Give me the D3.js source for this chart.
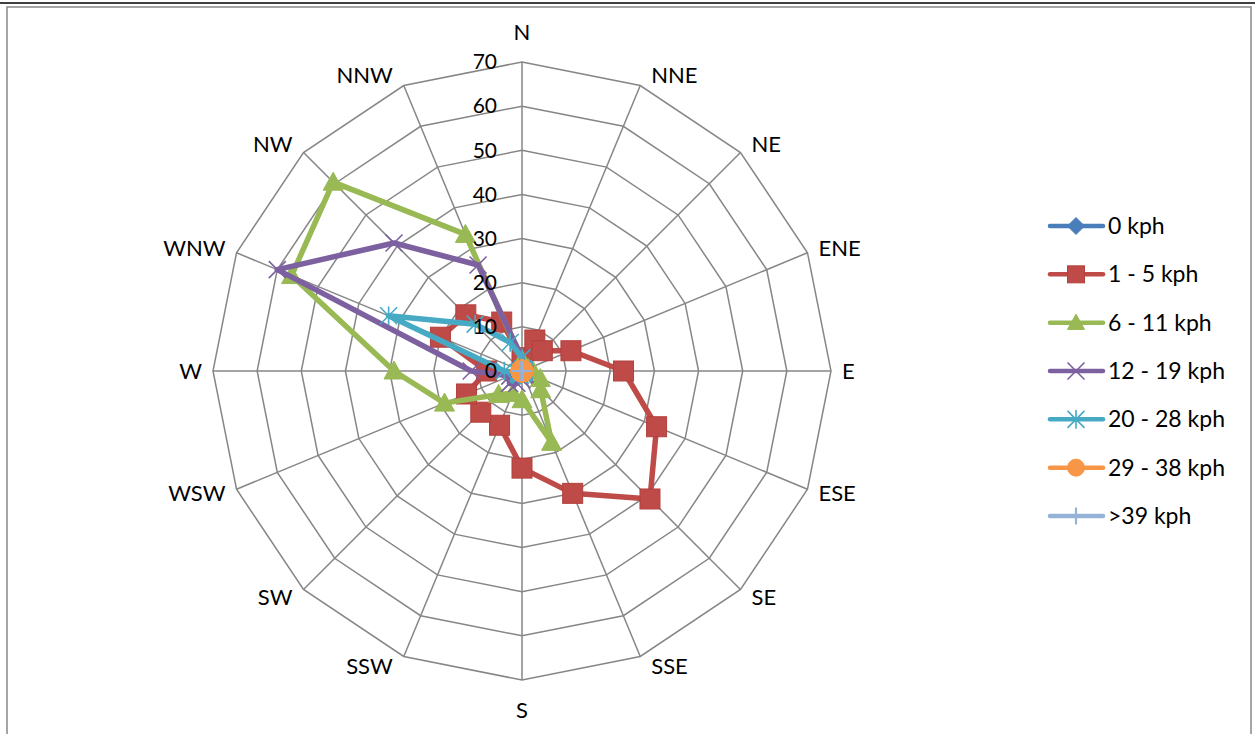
<!DOCTYPE html>
<html>
<head>
<meta charset="utf-8">
<script src="https://cdn.jsdelivr.net/npm/d3@7"></script>
<style>
  html, body { margin: 0; padding: 0; background: #fff; }
  svg { display: block; }
  text { font-family: Lato, "Open Sans", "DejaVu Sans", sans-serif; fill: #000; }
</style>
</head>
<body>
<svg id="chart" width="1255" height="734"></svg>
<script>
// ---- data ----
const directions = ["N","NNE","NE","ENE","E","ESE","SE","SSE","S","SSW","SW","WSW","W","WNW","NW","NNW"];
const tickValues = [0, 10, 20, 30, 40, 50, 60, 70];
const seriesNames = ["0 kph", "1 - 5 kph", "6 - 11 kph", "12 - 19 kph", "20 - 28 kph", "29 - 38 kph", ">39 kph"];
const kph0    = [0, 0, 0, 0, 0, 0, 0, 0, 0, 0, 0, 0, 0, 0, 0, 0];
const kph1_5  = [3, 7.6, 6.5, 12, 23, 33, 41, 30, 22, 13.3, 13.2, 13.6, 8, 20, 18, 12];
const kph6_11 = [2.5, 1, 1, 1.5, 2.5, 4.5, 6, 17.5, 6.5, 5.5, 7.5, 19, 29, 56.5, 60.5, 33.5];
const kph12_19 = [3, 0.5, 0.5, 0.5, 0.5, 0.5, 1, 1, 2, 3, 4, 3, 11.5, 60, 41, 26];
const kph20_28 = [3, 0.5, 0.5, 0.5, 0.5, 0.5, 0.5, 0.5, 0.5, 1, 1, 1, 4, 32.7, 15, 7];
const kph29_38 = [0, 0, 0, 0, 0, 0, 0, 0, 0, 0, 0, 0, 0, 0, 0, 0];
const kph39    = [0, 0, 0, 0, 0, 0, 0, 0, 0, 0, 0, 0, 0, 0, 0, 0];
const seriesValues = [kph0, kph1_5, kph6_11, kph12_19, kph20_28, kph29_38, kph39];
const seriesColors = ["#4A7EBB", "#BE4B48", "#98B954", "#7D60A0", "#46AAC5", "#F79646", "#95B3D7"];
const seriesMarkers = ["diamond", "square", "triangle", "x", "star", "circle", "plus"];

// ---- layout ----
const svg = d3.select("#chart");
const cx = 522, cy = 371, R = 309;
const r = d3.scaleLinear().domain([0, 70]).range([0, R]);
const ang = d3.scaleLinear().domain([0, directions.length]).range([0, 2 * Math.PI]);
const pt = (i, v) => [cx + r(v) * Math.sin(ang(i)), cy - r(v) * Math.cos(ang(i))];

// frame
svg.append("line").attr("x1", 0).attr("x2", 1255).attr("y1", 3).attr("y2", 3)
  .attr("stroke", "#000").attr("stroke-width", 1.5);
svg.append("rect").attr("x", 7).attr("y", 7).attr("width", 1244).attr("height", 740)
  .attr("fill", "none").attr("stroke", "#888").attr("stroke-width", 1.5);

const grid = svg.append("g");
// spokes
directions.forEach((d, i) => {
  const [x, y] = pt(i, 70);
  grid.append("line").attr("x1", cx).attr("y1", cy).attr("x2", x).attr("y2", y)
    .attr("stroke", "#868686").attr("stroke-width", 1.5);
});
// rings
tickValues.filter(t => t > 0).forEach(t => {
  const pts = directions.map((d, i) => pt(i, t));
  grid.append("polygon").attr("points", pts.map(p => p.join(",")).join(" "))
    .attr("fill", "none").attr("stroke", "#868686").attr("stroke-width", 1.5);
});

// category labels
directions.forEach((d, i) => {
  const s = Math.sin(ang(i)), c = Math.cos(ang(i));
  const [ex, ey] = pt(i, 70);
  let x, y, anchor;
  if (Math.abs(s) < 0.01) { anchor = "middle"; x = ex; y = ey - c * 30; }
  else { anchor = s > 0 ? "start" : "end"; x = ex + Math.sign(s) * 11; y = ey - c * 11; }
  svg.append("text").attr("x", x).attr("y", y).attr("dy", "0.35em")
    .attr("text-anchor", anchor).attr("font-size", 22).text(d);
});

// symbol helpers
function drawMarker(g, type, x, y, color, size) {
  const h = size / 2;
  if (type === "diamond") {
    g.append("path").attr("d", `M${x},${y - h}L${x + h},${y}L${x},${y + h}L${x - h},${y}Z`)
      .attr("fill", color).attr("stroke", color).attr("stroke-width", 1);
  } else if (type === "square") {
    g.append("rect").attr("x", x - h).attr("y", y - h).attr("width", size).attr("height", size)
      .attr("fill", color).attr("stroke", "#B3403D").attr("stroke-width", 1);
  } else if (type === "triangle") {
    g.append("path").attr("d", `M${x},${y - h}L${x + h},${y + h * 0.8}L${x - h},${y + h * 0.8}Z`)
      .attr("fill", color).attr("stroke", color).attr("stroke-width", 1);
  } else if (type === "x") {
    g.append("path").attr("d", `M${x - h},${y - h}L${x + h},${y + h}M${x - h},${y + h}L${x + h},${y - h}`)
      .attr("stroke", color).attr("stroke-width", 1.6).attr("fill", "none");
  } else if (type === "star") {
    g.append("path").attr("d", `M${x - h},${y - h}L${x + h},${y + h}M${x - h},${y + h}L${x + h},${y - h}M${x},${y - h * 1.1}L${x},${y + h * 1.1}`)
      .attr("stroke", color).attr("stroke-width", 1.6).attr("fill", "none");
  } else if (type === "circle") {
    g.append("circle").attr("cx", x).attr("cy", y).attr("r", h)
      .attr("fill", color).attr("stroke", color).attr("stroke-width", 1);
  } else if (type === "plus") {
    g.append("path").attr("d", `M${x - h},${y}L${x + h},${y}M${x},${y - h}L${x},${y + h}`)
      .attr("stroke", color).attr("stroke-width", 2.2).attr("fill", "none");
  }
}
const markerSize = { diamond: 17, square: 20, triangle: 20, x: 17, star: 17, circle: 22, plus: 20 };

// series
const line = d3.lineRadial().angle((d, i) => ang(i)).radius(d => r(d)).curve(d3.curveLinearClosed);
seriesValues.forEach((vals, k) => {
  const g = svg.append("g");
  g.append("path").attr("transform", `translate(${cx},${cy})`).attr("d", line(vals))
    .attr("fill", "none").attr("stroke", seriesColors[k]).attr("stroke-width", 5.5)
    .attr("stroke-linejoin", "round").attr("stroke-linecap", "round");
  vals.forEach((v, i) => {
    const [x, y] = pt(i, v);
    drawMarker(g, seriesMarkers[k], x, y, seriesColors[k], markerSize[seriesMarkers[k]]);
  });
});

// tick labels
tickValues.forEach(t => {
  svg.append("text").attr("x", cx - 25).attr("y", cy - r(t)).attr("dy", "0.35em")
    .attr("text-anchor", "end").attr("font-size", 21).text(t);
});

// legend
const legend = svg.append("g");
const ly = d3.scalePoint().domain(seriesNames).range([226, 516]);
seriesNames.forEach((n, k) => {
  const y = ly(n);
  legend.append("line").attr("x1", 1050).attr("x2", 1103).attr("y1", y).attr("y2", y)
    .attr("stroke", seriesColors[k]).attr("stroke-width", 4.5).attr("stroke-linecap", "round");
  drawMarker(legend, seriesMarkers[k], 1076, y, seriesColors[k], 17);
  legend.append("text").attr("x", 1108).attr("y", y).attr("dy", "0.35em")
    .attr("font-size", 23).text(n);
});
</script>
</body>
</html>
